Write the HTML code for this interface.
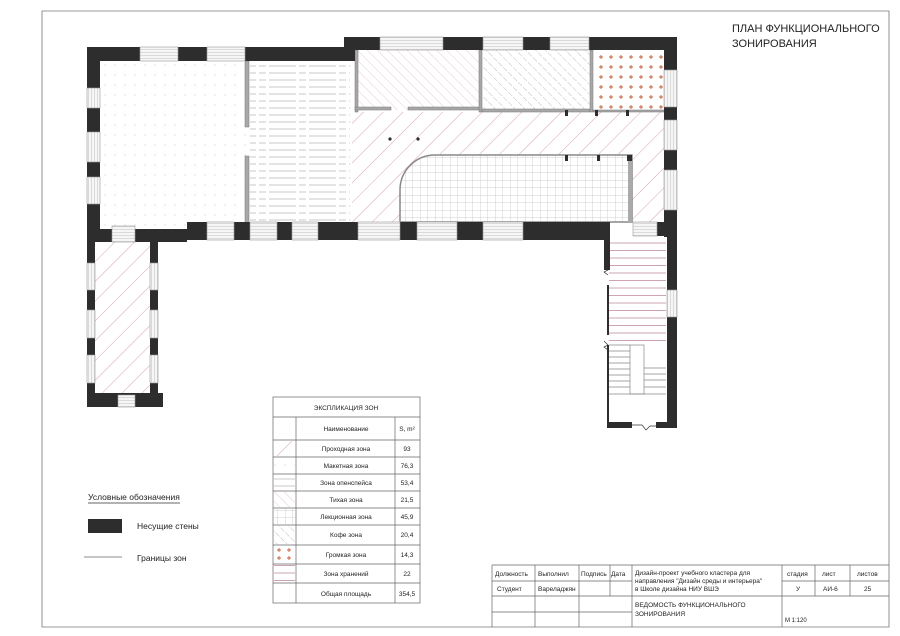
<!DOCTYPE html>
<html><head><meta charset="utf-8"><style>
html,body{margin:0;padding:0;background:#fff}
svg{display:block}
text{font-family:"Liberation Sans","DejaVu Sans",sans-serif;fill:#222}
</style></head><body>
<svg width="900" height="636" viewBox="0 0 900 636" xmlns="http://www.w3.org/2000/svg">
<defs>
<pattern id="red" width="14" height="14" patternUnits="userSpaceOnUse" patternTransform="rotate(45)">
<line x1="0" y1="0" x2="0" y2="14" stroke="#c98a9a" stroke-width="0.8"/></pattern>
<pattern id="dots" width="10" height="10" patternUnits="userSpaceOnUse">
<circle cx="5" cy="5" r="0.5" fill="#bbb"/></pattern>
<pattern id="open" width="40" height="7" patternUnits="userSpaceOnUse">
<line x1="0" y1="3" x2="16" y2="3" stroke="#bbb" stroke-width="0.8"/>
<line x1="19" y1="3" x2="26" y2="3" stroke="#bbb" stroke-width="0.8"/>
<line x1="29" y1="3" x2="40" y2="3" stroke="#bbb" stroke-width="0.8"/></pattern>
<pattern id="quiet" width="7" height="7" patternUnits="userSpaceOnUse" patternTransform="rotate(-45)">
<line x1="0" y1="0" x2="0" y2="7" stroke="#dab6c6" stroke-width="0.7"/></pattern>
<pattern id="coffee" width="7" height="7" patternUnits="userSpaceOnUse" patternTransform="rotate(-45)">
<line x1="0" y1="0" x2="0" y2="7" stroke="#a9a49a" stroke-width="0.7" stroke-dasharray="3 1.5"/></pattern>
<pattern id="grid" width="7.5" height="7.5" patternUnits="userSpaceOnUse">
<path d="M0 0H7.5M0 0V7.5" stroke="#c4c4c4" stroke-width="0.8" fill="none"/></pattern>
<pattern id="cross" width="10" height="10" x="596" y="52" patternUnits="userSpaceOnUse">
<path d="M5 3V7M3 5H7" stroke="#c0603a" stroke-width="0.9"/></pattern>
<pattern id="cross2" width="10" height="8" x="274" y="546" patternUnits="userSpaceOnUse">
<path d="M5 2V6M3 4H7" stroke="#c0603a" stroke-width="0.9"/></pattern>
<pattern id="stor" width="10" height="7.5" patternUnits="userSpaceOnUse">
<line x1="0" y1="3" x2="10" y2="3" stroke="#c99aaa" stroke-width="0.9"/></pattern>
<pattern id="winH" width="10" height="3" patternUnits="userSpaceOnUse">
<rect width="10" height="3" fill="#f6f6f6"/><line x1="0" y1="1.5" x2="10" y2="1.5" stroke="#c8c8c8" stroke-width="0.6"/></pattern>
<pattern id="winV" width="3" height="10" patternUnits="userSpaceOnUse">
<rect width="3" height="10" fill="#f6f6f6"/><line x1="1.5" y1="0" x2="1.5" y2="10" stroke="#c8c8c8" stroke-width="0.6"/></pattern>
</defs>

<!-- frame -->
<path d="M42 11H889V627H42Z" fill="none" stroke="#777" stroke-width="0.8"/>
<text x="732" y="32" font-size="11">ПЛАН ФУНКЦИОНАЛЬНОГО</text>
<text x="732" y="47" font-size="11">ЗОНИРОВАНИЯ</text>

<!-- floors -->
<rect x="100" y="61" width="146" height="168" fill="url(#dots)"/>
<rect x="250" y="61" width="100" height="161" fill="url(#open)"/>
<rect x="355" y="50" width="125" height="60" fill="url(#quiet)"/>
<rect x="483" y="50" width="107" height="62" fill="url(#coffee)"/>
<rect x="594" y="50" width="70" height="62" fill="url(#cross)"/>
<rect x="352" y="112" width="312" height="110" fill="url(#red)"/>
<path d="M400 222V190A35 35 0 0 1 435 155H632V222Z" fill="#fff"/>
<path d="M400 222V190A35 35 0 0 1 435 155H632V222Z" fill="url(#grid)" stroke="#888" stroke-width="1.5"/>
<rect x="628" y="158" width="4" height="64" fill="#aaa"/>
<rect x="95" y="242" width="56" height="151" fill="url(#red)"/>
<rect x="609" y="237" width="57" height="108" fill="url(#stor)"/>

<!-- interior partitions -->
<g fill="#a8a8a8" stroke="#777" stroke-width="0.5">
<rect x="245" y="61" width="4" height="66"/>
<rect x="245" y="156" width="4" height="73"/>
<rect x="355" y="50" width="3" height="62"/>
<rect x="355" y="107" width="36" height="3"/>
<rect x="408" y="107" width="73" height="3"/>
<rect x="479" y="50" width="3" height="62"/>
<rect x="482" y="109" width="108" height="3"/>
<rect x="590" y="50" width="3" height="62"/>
<rect x="593" y="110" width="71" height="2"/>
</g>
<g fill="#2d2d2d">
<rect x="565" y="110" width="3" height="6"/><rect x="595" y="110" width="3" height="6"/><rect x="626" y="110" width="3" height="6"/>
<rect x="565" y="155" width="3" height="6"/><rect x="597" y="155" width="3" height="6"/><rect x="627" y="155" width="5" height="6"/>
<circle cx="390" cy="139" r="1.6"/><circle cx="418" cy="139" r="1.6"/>
</g>

<!-- walls -->
<g fill="#2d2d2d">
<rect x="87" y="47" width="257" height="14"/>
<rect x="344" y="37" width="333" height="13"/>
<rect x="344" y="37" width="11" height="24"/>
<rect x="87" y="47" width="13" height="195"/>
<rect x="87" y="229" width="100" height="13"/>
<rect x="187" y="222" width="420" height="18"/>
<rect x="657" y="222" width="20" height="14"/>
<rect x="664" y="37" width="13" height="200"/>
<rect x="667" y="222" width="10" height="206"/>
<rect x="87" y="236" width="8" height="171"/>
<rect x="150" y="236" width="8" height="171"/>
<rect x="87" y="393" width="76" height="14"/>
<rect x="604" y="222" width="6" height="48"/>
<rect x="607" y="285" width="2" height="50"/>
<rect x="607" y="345" width="2" height="83"/>
<rect x="607" y="422" width="25" height="6"/>
<rect x="656" y="422" width="20" height="6"/>
</g>
<!-- windows -->
<g stroke="#999" stroke-width="0.6">
<g fill="url(#winH)">
<rect x="140" y="47" width="38" height="14"/><rect x="207" y="47" width="38" height="14"/>
<rect x="207" y="222" width="27" height="18"/><rect x="250" y="222" width="27" height="18"/><rect x="292" y="222" width="26" height="18"/>
<rect x="358" y="222" width="42" height="18"/><rect x="417" y="222" width="40" height="18"/><rect x="483" y="222" width="40" height="18"/>
<rect x="380" y="37" width="63" height="13"/><rect x="483" y="37" width="40" height="13"/><rect x="550" y="37" width="39" height="13"/>
<rect x="112" y="226" width="23" height="16"/><rect x="118" y="395" width="17" height="12"/>
<rect x="633" y="222" width="24" height="14"/>
</g>
<g fill="url(#winV)">
<rect x="87" y="88" width="13" height="20"/><rect x="87" y="132" width="13" height="30"/><rect x="87" y="177" width="13" height="27"/>
<rect x="664" y="70" width="13" height="37"/><rect x="664" y="120" width="13" height="30"/><rect x="664" y="170" width="13" height="40"/>
<rect x="667" y="290" width="10" height="27"/>
<rect x="87" y="263" width="8" height="27"/><rect x="87" y="310" width="8" height="28"/><rect x="87" y="355" width="8" height="28"/>
<rect x="150" y="263" width="8" height="27"/><rect x="150" y="310" width="8" height="28"/><rect x="150" y="355" width="8" height="28"/>
</g>
</g>
<!-- stairs -->
<g stroke="#888" stroke-width="0.7" fill="#fff">
<rect x="630" y="345" width="14" height="49"/>
<path d="M609 345H630M609 351H630M609 357H630M609 363H630M609 369H630M609 375H630M609 381H630M609 387H630M609 394H666M644 368H666M644 374H666M644 380H666M644 387H666" fill="none"/>
<path d="M604 266l4 4-4 2 4 3M604 341l4 4-4 2 4 3M632 425l10 0 4 5 4-4 6 0" fill="none" stroke="#333"/>
</g>

<!-- legend -->
<text x="88" y="500" font-size="8.5">Условные обозначения</text>
<line x1="88" y1="503" x2="180" y2="503" stroke="#333" stroke-width="0.7"/>
<rect x="88" y="519" width="34" height="14" fill="#2d2d2d"/>
<text x="137" y="529" font-size="8.5">Несущие стены</text>
<line x1="84" y1="557" x2="122" y2="557" stroke="#666" stroke-width="0.8"/>
<text x="137" y="561" font-size="8.5">Границы зон</text>

<!-- table -->
<g stroke="#666" stroke-width="0.7" fill="none">
<rect x="273" y="397" width="147" height="206"/>
<path d="M273 417H420M273 440H420M273 457H420M273 474H420M273 491H420M273 508H420M273 525H420M273 545H420M273 564H420M273 583H420M296 417V603M395 417V603"/>
</g>
<rect x="274" y="441" width="21" height="15" fill="url(#red)"/>
<rect x="274" y="458" width="21" height="15" fill="url(#dots)"/>
<rect x="274" y="475" width="21" height="15" fill="url(#open)"/>
<rect x="274" y="492" width="21" height="15" fill="url(#quiet)"/>
<rect x="274" y="509" width="21" height="15" fill="url(#grid)"/>
<rect x="274" y="526" width="21" height="18" fill="url(#coffee)"/>
<rect x="274" y="546" width="21" height="17" fill="url(#cross2)"/>
<rect x="274" y="565" width="21" height="17" fill="url(#stor)"/>
<g font-size="6.5" text-anchor="middle">
<text x="346" y="410">ЭКСПЛИКАЦИЯ ЗОН</text>
<text x="346" y="431">Наименование</text><text x="407" y="431">S, m²</text>
<text x="346" y="451">Проходная зона</text><text x="407" y="451">93</text>
<text x="346" y="468">Макетная зона</text><text x="407" y="468">76,3</text>
<text x="346" y="485">Зона опенспейса</text><text x="407" y="485">53,4</text>
<text x="346" y="502">Тихая зона</text><text x="407" y="502">21,5</text>
<text x="346" y="519">Лекционная зона</text><text x="407" y="519">45,9</text>
<text x="346" y="537">Кофе зона</text><text x="407" y="537">20,4</text>
<text x="346" y="557">Громкая зона</text><text x="407" y="557">14,3</text>
<text x="346" y="576">Зона хранений</text><text x="407" y="576">22</text>
<text x="346" y="596">Общая площадь</text><text x="407" y="596">354,5</text>
</g>

<!-- title block -->
<g stroke="#666" stroke-width="0.7" fill="none">
<path d="M492 565H889M492 565V627M492 581H632M492 596H889M492 612H632M535 565V627M579 565V627M610 565V596M632 565V627M782 565V627M815 565V596M850 565V596M782 581H889"/>
</g>
<g font-size="6.5">
<text x="495" y="576">Должность</text><text x="538" y="576">Выполнил</text><text x="581" y="576">Подпись</text><text x="611" y="576">Дата</text>
<text x="497" y="591">Студент</text><text x="538" y="591">Вареладжян</text>
<text x="635" y="575">Дизайн-проект учебного кластера для</text>
<text x="635" y="583">направления "Дизайн среды и интерьера"</text>
<text x="635" y="591">в Школе дизайна НИУ ВШЭ</text>
<text x="787" y="576">стадия</text><text x="822" y="576">лист</text><text x="857" y="576">листов</text>
<text x="796" y="591">У</text><text x="823" y="591">АИ-6</text><text x="864" y="591">25</text>
<text x="635" y="607">ВЕДОМОСТЬ ФУНКЦИОНАЛЬНОГО</text>
<text x="635" y="616">ЗОНИРОВАНИЯ</text>
<text x="785" y="622" font-size="6">М 1:120</text>
</g>
</svg>
</body></html>
